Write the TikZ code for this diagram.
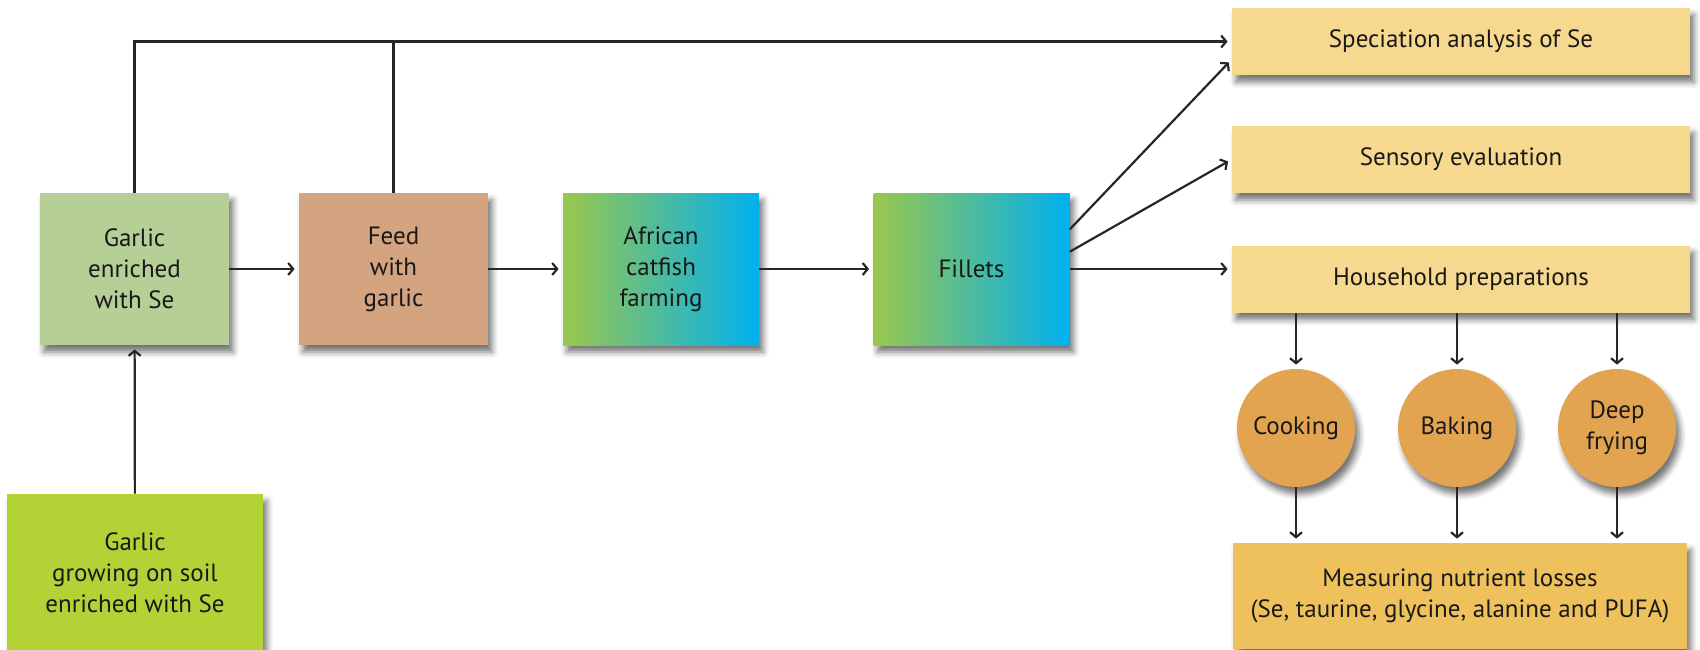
\documentclass[tikz,border=0pt]{standalone}
\usepackage{fontspec}
\setmainfont{PT Sans}
\usetikzlibrary{arrows.meta,shadows.blur}

\definecolor{soilgreen}{HTML}{B3D236}
\definecolor{garlicgreen}{HTML}{B5CF96}
\definecolor{feedtan}{HTML}{D4A37F}
\definecolor{fishgreen}{HTML}{9AC74C}
\definecolor{fishblue}{HTML}{00B0F0}
\definecolor{testgold}{HTML}{F6D88F}
\definecolor{cookorange}{HTML}{E2A451}
\definecolor{lossgold}{HTML}{EFC15D}

\tikzset{
  box/.style={rectangle, minimum width=94.5pt, minimum height=76pt, align=center,
    font=\fontsize{12.5}{15.5}\selectfont, text=black!90,
    blur shadow={shadow xshift=2pt, shadow yshift=-3.5pt, shadow blur radius=3pt, shadow opacity=55}},
  fishbox/.style={box, minimum width=98pt, left color=fishgreen, right color=fishblue},
  testbox/.style={box, fill=testgold, minimum width=229pt, minimum height=33.5pt},
  cookcircle/.style={box, circle, fill=cookorange, minimum size=59pt, inner sep=0pt},
  arrow/.style={line width=1.1pt, draw=black!85, -{Straight Barb[length=2.5pt,width=6pt]}, shorten >=2pt},
  joinline/.style={line width=1.1pt, draw=black!85}
}

\begin{document}
\begin{tikzpicture}[x=0.5pt,y=-0.5pt]
  \useasboundingbox (0,0) rectangle (1700,649);
  % main chain
  \node[box, fill=garlicgreen] (garlic) at (134.5,269) {Garlic\\enriched\\with Se};
  \node[box, fill=feedtan] (feed) at (393.5,269) {Feed\\with\\garlic};
  \node[fishbox] (catfish) at (661,269) {African\\catfish\\farming};
  \node[fishbox] (fillets) at (971.5,269) {Fillets};
  \node[box, fill=soilgreen, minimum width=128pt, minimum height=79pt] (soil) at (135,573) {Garlic\\growing on soil\\enriched with Se};
  % analyses
  \node[testbox] (speciation) at (1461,41.5) {Speciation analysis of Se};
  \node[testbox] (sensory) at (1461,159.5) {Sensory evaluation};
  \node[testbox] (household) at (1461,279) {Household preparations};
  \node[cookcircle] (cooking) at (1296,428) {Cooking};
  \node[cookcircle] (baking) at (1457,428) {Baking};
  \node[cookcircle] (frying) at (1617,428) {Deep\\frying};
  \node[box, fill=lossgold, minimum width=227pt, minimum height=53pt] (losses) at (1460,596) {Measuring nutrient losses\\(Se, taurine, glycine, alanine and PUFA)};

  \draw[arrow] (soil) -- (garlic);
  \draw[arrow] (garlic) -- (feed);
  \draw[arrow] (feed) -- (catfish);
  \draw[arrow] (catfish) -- (fillets);
  \draw[arrow] (garlic.north) |- (speciation.west);
  \draw[joinline] (feed.north) -- (feed.north |- speciation.west);
  \draw[arrow] (fillets.22) -- ([yshift=-9pt]speciation.west);
  \draw[arrow] (fillets.10) -- (sensory.west);
  \draw[arrow] (fillets.east) -- (fillets.east -| household.west);
  \foreach \way in {cooking,baking,frying} {
    \draw[arrow] (household.south -| \way.north) -- (\way.north);
    \draw[arrow] (\way.south) -- (\way.south |- losses.north);
  }
\end{tikzpicture}
\end{document}
